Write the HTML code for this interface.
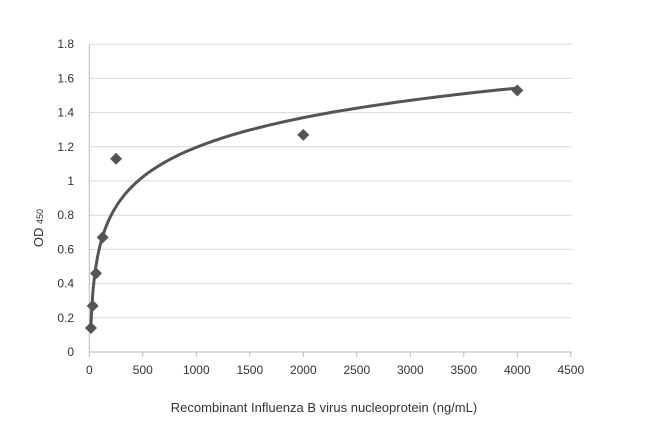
<!DOCTYPE html><html><head><style>body{margin:0;background:#fff}</style></head><body>
<svg id="s" width="650" height="427" xmlns="http://www.w3.org/2000/svg" font-family="Liberation Sans, sans-serif" font-size="12" fill="#333">
<g id="g" stroke="#d9d9d9" stroke-width="1"></g>
<g id="t"></g>
<path id="c" fill="none" stroke="#555" stroke-width="3"/>
<g id="m" fill="#555"></g>
<text transform="translate(43 228) rotate(-90)" text-anchor="middle" font-size="13">OD <tspan font-size="9">450</tspan></text>
<text x="324" y="412" text-anchor="middle" font-size="13">Recombinant  Influenza B virus nucleoprotein  (ng/mL)</text>
</svg>
<script>
var X=function(v){return 89.3+v*53.5/500},Y=function(v){return 352-v*171};
var g=document.getElementById('g'),t=document.getElementById('t'),h='',tt='';
for(var i=0;i<=9;i++){var v=i*0.2,y=Y(v);h+='<line x1="89" x2="572" y1="'+y+'" y2="'+y+'"/>';tt+='<text x="74" y="'+(y+4)+'" text-anchor="end">'+(i==0?'0':(+v.toFixed(1)))+'</text>';}
h+='<line x1="89.3" x2="89.3" y1="44" y2="352" stroke="#bbb"/><line x1="89" x2="572" y1="352" y2="352" stroke="#bbb"/>';
for(var i=0;i<=9;i++){var x=X(i*500);h+='<line x1="'+x+'" x2="'+x+'" y1="352" y2="357" stroke="#bbb"/>';tt+='<text x="'+x+'" y="374" text-anchor="middle">'+(i*500)+'</text>';}
g.innerHTML=h;t.innerHTML=tt;
var d='';for(var k=0;k<=200;k++){var xv=15*Math.pow(4000/15,k/200);var yv=0.25*Math.log(xv)-0.53;d+=(k?'L':'M')+X(xv).toFixed(1)+' '+Y(yv).toFixed(1);}
document.getElementById('c').setAttribute('d',d);
var p=[[15.6,0.14],[31.25,0.27],[62.5,0.46],[125,0.67],[250,1.13],[2000,1.27],[4000,1.53]],m='';
p.forEach(function(q){var x=X(q[0]),y=Y(q[1]);m+='<polygon points="'+x+','+(y-6)+' '+(x+6)+','+y+' '+x+','+(y+6)+' '+(x-6)+','+y+'"/>';});
document.getElementById('m').innerHTML=m;
</script></body></html>
